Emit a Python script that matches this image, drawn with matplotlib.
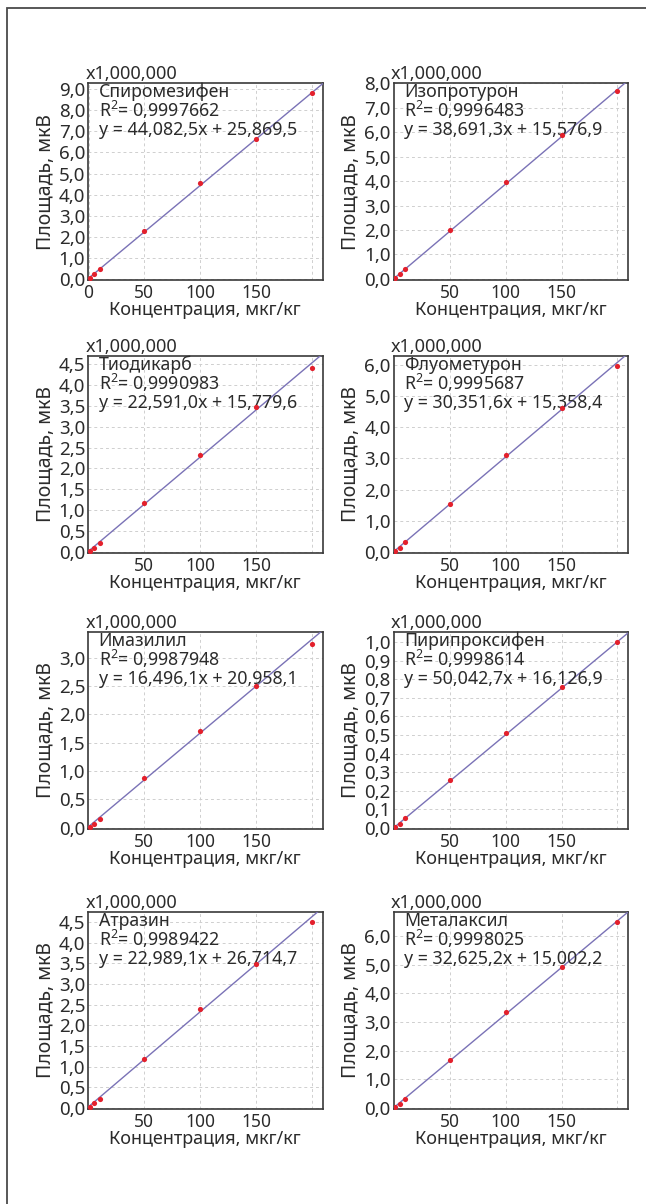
import matplotlib
matplotlib.use('Agg')
import matplotlib.pyplot as plt
from matplotlib.patches import Rectangle
from matplotlib.ticker import FuncFormatter

plt.rcParams['font.family'] = ['Noto Sans', 'DejaVu Sans']
plt.rcParams['mathtext.fontset'] = 'custom'
plt.rcParams['mathtext.rm'] = 'Noto Sans'

# Calibration levels, мкг/кг
conc = [1, 5, 10, 50, 100, 150, 200]

names = ['Спиромезифен', 'Изопротурон', 'Тиодикарб', 'Флуометурон',
         'Имазилил', 'Пирипроксифен', 'Атразин', 'Металаксил']
r2 = ['0,9997662', '0,9996483', '0,9990983', '0,9995687',
      '0,9987948', '0,9998614', '0,9989422', '0,9998025']
slopes = [44082.5, 38691.3, 22591.0, 30351.6, 16496.1, 50042.7, 22989.1, 32625.2]
intercepts = [25869.5, 15576.9, 15779.6, 15358.4, 20958.1, 16126.9, 26714.7, 15002.2]
# divisor between raw area and the axis units
scale = [1e6, 1e6, 1e6, 1e6, 1e6, 1e7, 1e6, 1e6]

# Peak areas in axis units
area_spiro = [0.03, 0.21, 0.46, 2.29, 4.54, 6.63, 8.84]
area_isopro = [0.02, 0.21, 0.40, 1.99, 3.98, 5.91, 7.69]
area_thiod = [0.02, 0.10, 0.22, 1.16, 2.33, 3.47, 4.40]
area_fluom = [0.03, 0.13, 0.30, 1.53, 3.11, 4.63, 5.98]
area_imaz = [0.01, 0.06, 0.15, 0.87, 1.71, 2.50, 3.23]
area_pyri = [0.004, 0.023, 0.054, 0.255, 0.511, 0.757, 1.00]
area_atraz = [0.01, 0.105, 0.22, 1.19, 2.38, 3.48, 4.50]
area_metal = [0.02, 0.14, 0.31, 1.68, 3.35, 4.93, 6.51]
areas = [area_spiro, area_isopro, area_thiod, area_fluom,
         area_imaz, area_pyri, area_atraz, area_metal]

# y-axis ticks (top value, step) and upper limit for each panel
ytop = [9.0, 8.0, 4.5, 6.0, 3.0, 1.0, 4.5, 6.0]
ystep = [1.0, 1.0, 0.5, 1.0, 0.5, 0.1, 0.5, 1.0]
ylim_top = [9.3, 8.02, 4.7, 6.29, 3.45, 1.055, 4.74, 6.85]

W, H = 646, 1204
fig = plt.figure(figsize=(W / 100, H / 100), dpi=100)

# outer frame
fig.patches.append(Rectangle((7 / W, -0.05), 2, (1 - 8 / H) + 0.05,
                             transform=fig.transFigure, fill=False,
                             edgecolor='#4a4a4a', linewidth=1.3))

col_x = [88, 393.5]
col_w = 234.5
row_top = [83, 356, 632, 912]
row_h = 197

LINE = '#7a72b6'
DOT = '#e3202c'
FRAME = '#3a3a3a'
GRID = '#cfcfcf'
TXT = '#2b2b2b'

comma = FuncFormatter(lambda v, p: f'{v:.1f}'.replace('.', ','))

for i, name in enumerate(names):
    r, c = divmod(i, 2)
    left = col_x[c] / W
    bottom = 1 - (row_top[r] + row_h) / H
    ax = fig.add_axes([left, bottom, col_w / W, row_h / H])

    ax.axline((0, intercepts[i] / scale[i]), slope=slopes[i] / scale[i],
              color=LINE, linewidth=1.0, zorder=3)
    ax.scatter(conc, areas[i], s=14, color=DOT, zorder=4, linewidths=0)

    ax.set_xlim(-0.5, 209.5)
    ax.set_ylim(-ylim_top[i] * 0.006, ylim_top[i])
    if i == 0:
        ax.set_xticks([0, 50, 100, 150, 200])
        ax.set_xticklabels(['0', '50', '100', '150', ''])
    else:
        ax.set_xticks([50, 100, 150, 200])
        ax.set_xticklabels(['50', '100', '150', ''])
    n = int(round(ytop[i] / ystep[i]))
    ax.set_yticks([k * ystep[i] for k in range(n + 1)])
    ax.yaxis.set_major_formatter(comma)

    ax.tick_params(axis='y', length=0, labelsize=13.5, colors=TXT, pad=2)
    ax.tick_params(axis='x', length=0, labelsize=12.5, colors=TXT, pad=3)
    ax.grid(True, linestyle=(0, (3, 3)), linewidth=0.7, color=GRID)
    ax.set_axisbelow(True)
    for sp in ax.spines.values():
        sp.set_color(FRAME)
        sp.set_linewidth(1.2)

    ax.set_xlabel('Концентрация, мкг/кг', fontsize=13, color=TXT, labelpad=-1)
    ax.set_ylabel('Площадь, мкВ', fontsize=14, color=TXT, labelpad=2)

    ax.text(-0.01, 1.0, 'x1,000,000', transform=ax.transAxes,
            ha='left', va='bottom', fontsize=13, color=TXT)

    eq = (f'y = {slopes[i]:,.1f}'.replace('.', ',') + 'x + '
          + f'{intercepts[i]:,.1f}'.replace('.', ','))
    ax.text(0.045, 0.954, name, transform=ax.transAxes,
            ha='left', va='center', fontsize=12.8, color=TXT)
    ax.text(0.045, 0.863, 'R$^2$= ' + r2[i], transform=ax.transAxes,
            ha='left', va='center', fontsize=12.8, color=TXT)
    ax.text(0.045, 0.761, eq, transform=ax.transAxes,
            ha='left', va='center', fontsize=12.8, color=TXT)

fig.savefig('out.png', dpi=100)
